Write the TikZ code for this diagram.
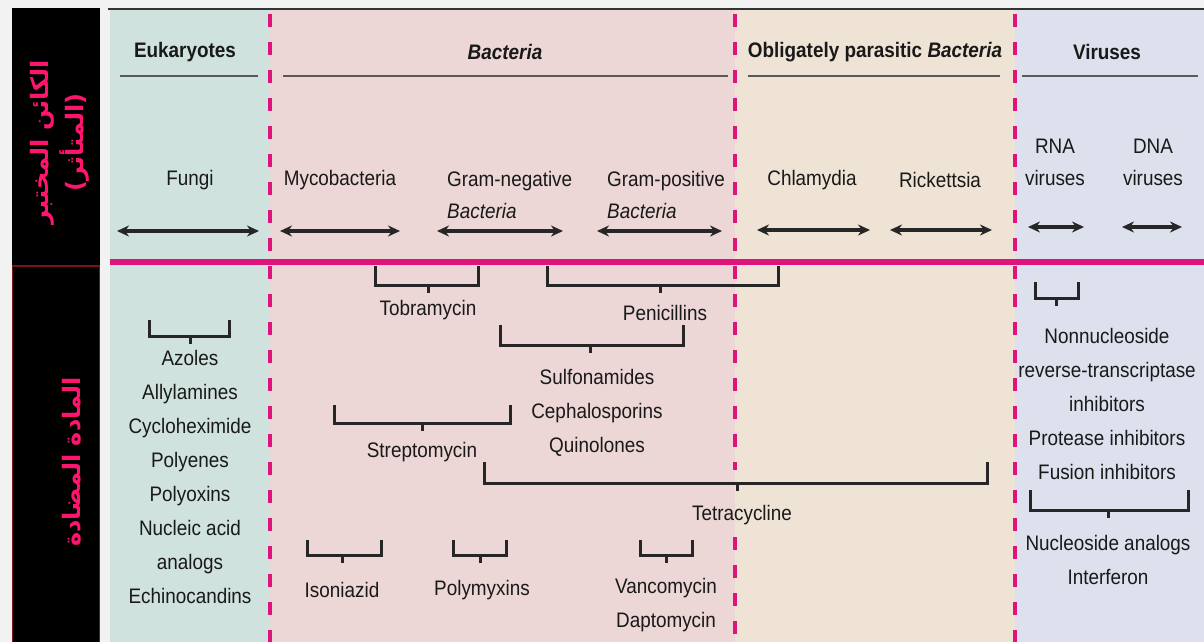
\documentclass[tikz,border=0pt]{standalone}
\usepackage{fontspec}
\setmainfont[FakeStretch=0.9]{Liberation Sans}
\newfontfamily\arabicfont[Script=Arabic]{DejaVu Sans}
\TeXXeTstate=1
\usetikzlibrary{arrows.meta}
\definecolor{euk}{RGB}{207,226,221}
\definecolor{bac}{RGB}{236,214,214}
\definecolor{obl}{RGB}{238,227,213}
\definecolor{vir}{RGB}{220,225,237}
\definecolor{mag}{RGB}{222,20,122}
\definecolor{apink}{RGB}{255,20,110}
\definecolor{txt}{RGB}{25,25,25}
\definecolor{strip}{RGB}{120,20,30}
\newcommand\mybrk[5]{% xl, xr, ytop, ybot, stem x
  \draw[brk] (#1,#3) -- (#1,#4) -- (#2,#4) -- (#2,#3);
  \draw[brk] (#5,#4) -- (#5,#4+8);}
\begin{document}
\begin{tikzpicture}[x=1pt,y=-1pt,
  lbl/.style={text=txt, font=\fontsize{21}{34}\selectfont, inner sep=0pt, align=center},
  hdr/.style={text=txt, font=\bfseries\fontsize{21}{26}\selectfont, inner sep=0pt},
  uline/.style={draw=black!65, line width=1.8pt},
  dbl/.style={{Stealth[length=12pt,width=11pt]}-{Stealth[length=12pt,width=11pt]}, line width=3.2pt, draw=black!85},
  brk/.style={draw=black!85, line width=3pt},
  sep/.style={draw=mag, line width=3.5pt, dash pattern=on 13pt off 15pt},
  arab/.style={text=apink, font=\arabicfont\bfseries\fontsize{24}{35}\selectfont, rotate=90, align=center, inner sep=0pt}]
\useasboundingbox (0,0) rectangle (1204,642);
\fill[black!5] (0,0) rectangle (1204,642);
% column backgrounds
\fill[euk] (110,8) rectangle (270,642);
\fill[bac] (270,8) rectangle (735,642);
\fill[obl] (735,8) rectangle (1015,642);
\fill[vir] (1015,8) rectangle (1204,642);
\draw[line width=2.5pt, black!80] (108,9) -- (1204,9);
% left strip
\fill[black] (12,8) rectangle (100,642);
\draw[strip, line width=1pt] (12.5,266) -- (12.5,642) (99.5,266) -- (99.5,642);
\draw[strip, line width=2pt] (12,266) -- (100,266);
\node[arab] (organism) at (60,142) {\beginR الكائن المختبر\endR\\\beginR(المتأثر)\endR};
\node[arab] (drug) at (72,462) {\beginR المادة المضادة\endR};
% separators
\draw[sep] (270,14) -- (270,642);
\draw[sep] (735,14) -- (735,470);
\draw[sep] (735,537) -- (735,642);
\draw[sep] (1015,14) -- (1015,642);
\draw[mag, line width=6.5pt] (110,262) -- (1204,262);
% headers
\node[hdr] (heuk) at (185,52) {Eukaryotes};
\node[hdr] (hbac) at (505,52) {\itshape Bacteria};
\node[hdr] (hobl) at (875,52) {Obligately parasitic \textit{Bacteria}};
\node[hdr] (hvir) at (1107,52) {Viruses};
\draw[uline] (120,76) -- (258,76);
\draw[uline] (283,76) -- (728,76);
\draw[uline] (748,76) -- (1000,76);
\draw[uline] (1022,76) -- (1198,76);
% organisms
\node[lbl] (fungi) at (190,180) {Fungi};
\node[lbl] (myco) at (340,180) {Mycobacteria};
\node[lbl, align=left, anchor=north west, font=\fontsize{21}{32}\selectfont] (gneg) at (447,171) {Gram-negative\\\itshape Bacteria};
\node[lbl, align=left, anchor=north west, font=\fontsize{21}{32}\selectfont] (gpos) at (607,171) {Gram-positive\\\itshape Bacteria};
\node[lbl] (chla) at (812,180) {Chlamydia};
\node[lbl] (rick) at (940,180) {Rickettsia};
\node[lbl, font=\fontsize{21}{32}\selectfont] (rna) at (1055,162) {RNA\\viruses};
\node[lbl, font=\fontsize{21}{32}\selectfont] (dna) at (1153,162) {DNA\\viruses};
% arrows
\coordinate (a1l) at (117,231); \coordinate (a1r) at (259,231);
\coordinate (a2l) at (280,231); \coordinate (a2r) at (400,231);
\coordinate (a3l) at (437,231); \coordinate (a3r) at (563,231);
\coordinate (a4l) at (597,231); \coordinate (a4r) at (722,231);
\coordinate (a5l) at (757,230); \coordinate (a5r) at (870,230);
\coordinate (a6l) at (890,230); \coordinate (a6r) at (992,230);
\coordinate (a7l) at (1028,227); \coordinate (a7r) at (1084,227);
\coordinate (a8l) at (1122,227); \coordinate (a8r) at (1182,227);
\foreach \i in {1,...,8} {\draw[dbl] (a\i l) -- (a\i r);}
% drugs
\mybrk{149}{229}{320}{336}{190}
\node[lbl, anchor=north] (euk) at (190,350) {Azoles\\Allylamines\\Cycloheximide\\Polyenes\\Polyoxins\\Nucleic acid\\analogs\\Echinocandins};
\mybrk{375}{478}{266}{285}{428}
\node[lbl] (tobra) at (428,310) {Tobramycin};
\mybrk{547}{778}{266}{285}{660}
\node[lbl] (peni) at (665,313) {Penicillins};
\mybrk{500}{683}{325}{345}{590}
\node[lbl, anchor=north] (sulfa) at (597,369) {Sulfonamides\\Cephalosporins\\Quinolones};
\mybrk{334}{510}{405}{423}{422}
\node[lbl] (strep) at (422,452) {Streptomycin};
\mybrk{484}{987}{462}{483}{737}
\node[lbl] (tetra) at (742,515) {Tetracycline};
\mybrk{307}{381}{540}{555}{342}
\node[lbl] (isoni) at (342,590) {Isoniazid};
\mybrk{453}{506}{540}{555}{480}
\node[lbl] (polym) at (482,590) {Polymyxins};
\mybrk{640}{692}{540}{555}{666}
\node[lbl, anchor=north] (vanco) at (666,578) {Vancomycin\\Daptomycin};
\mybrk{1035}{1078}{282}{298}{1056}
\node[lbl, anchor=north] (nnrti) at (1107,328) {Nonnucleoside\\reverse-transcriptase\\inhibitors\\Protease inhibitors\\Fusion inhibitors};
\mybrk{1030}{1188}{490}{510}{1108}
\node[lbl, anchor=north] (nucl) at (1108,535) {Nucleoside analogs\\Interferon};
\end{tikzpicture}
\end{document}
